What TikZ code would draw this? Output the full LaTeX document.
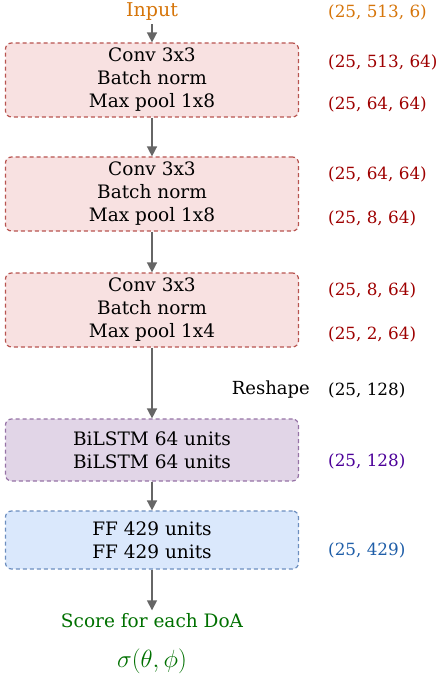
\documentclass[tikz,border=0pt]{standalone}
\usepackage{fontspec}
\setmainfont{DejaVu Serif}
\usepackage{tikz}
\usetikzlibrary{arrows.meta}
\definecolor{inorange}{HTML}{D6750A}
\definecolor{darkred}{HTML}{9E0000}
\definecolor{lstmpurple}{HTML}{4C0099}
\definecolor{ffblue}{HTML}{1F5EA8}
\definecolor{outgreen}{HTML}{007000}
\definecolor{convfill}{HTML}{F8E1E1}
\definecolor{convline}{HTML}{B85450}
\definecolor{lstmfill}{HTML}{E1D5E7}
\definecolor{lstmline}{HTML}{9673A6}
\definecolor{fffill}{HTML}{DAE8FC}
\definecolor{ffline}{HTML}{6C8EBF}
\tikzstyle{layer}=[rectangle,rounded corners=6pt,dash pattern=on 4pt off 3pt,line width=1.2pt,minimum width=293pt,align=center,font=\fontsize{18.5}{23}\selectfont,inner sep=0pt]
\tikzstyle{dims}=[anchor=west,font=\fontsize{16.8}{23}\selectfont,inner sep=0pt]
\tikzstyle{flow}=[draw=black!60,line width=1.5pt,-{Triangle[width=10pt,length=10pt]}]

\begin{document}
\begin{tikzpicture}[x=1pt,y=-1pt]
\useasboundingbox (0,0) rectangle (445,679);
% blocks
\node[font=\fontsize{19}{23}\selectfont,text=inorange] (in) at (152,12) {Input};
\node[layer,fill=convfill,draw=convline,minimum height=74pt] (c1) at (152,80) {Conv 3x3\\Batch norm\\Max pool 1x8};
\node[layer,fill=convfill,draw=convline,minimum height=74pt] (c2) at (152,194) {Conv 3x3\\Batch norm\\Max pool 1x8};
\node[layer,fill=convfill,draw=convline,minimum height=74pt] (c3) at (152,310) {Conv 3x3\\Batch norm\\Max pool 1x4};
\node[layer,fill=lstmfill,draw=lstmline,minimum height=62pt] (lstm) at (152,450) {BiLSTM 64 units\\BiLSTM 64 units};
\node[layer,fill=fffill,draw=ffline,minimum height=58pt] (ff) at (152,540) {FF 429 units\\FF 429 units};
\node[font=\fontsize{18.5}{23}\selectfont,text=outgreen] (score) at (152,621) {Score for each DoA};
\node[font=\fontsize{24}{23}\selectfont,text=outgreen] (sigma) at (152,661) {$\sigma(\theta,\phi)$};
% arrows
\draw[flow] (in) -- (c1);
\draw[flow] (c1) -- (c2);
\draw[flow] (c2) -- (c3);
\draw[flow] (c3) -- (lstm);
\draw[flow] (lstm) -- (ff);
\draw[flow] (ff) -- (score);
% shapes
\node[dims,text=inorange] (s0) at (328,12) {(25, 513, 6)};
\node[dims,text=darkred] (s1) at (328,62) {(25, 513, 64)};
\node[dims,text=darkred] (s2) at (328,104) {(25, 64, 64)};
\node[dims,text=darkred] (s3) at (328,174) {(25, 64, 64)};
\node[dims,text=darkred] (s4) at (328,218) {(25, 8, 64)};
\node[dims,text=darkred] (s5) at (328,290) {(25, 8, 64)};
\node[dims,text=darkred] (s6) at (328,334) {(25, 2, 64)};
\node[dims,anchor=east,font=\fontsize{18}{23}\selectfont] (rs) at (310,390) {Reshape};
\node[dims] (s7) at (328,390) {(25, 128)};
\node[dims,text=lstmpurple] (s8) at (328,461) {(25, 128)};
\node[dims,text=ffblue] (s9) at (328,550) {(25, 429)};
\end{tikzpicture}
\end{document}
